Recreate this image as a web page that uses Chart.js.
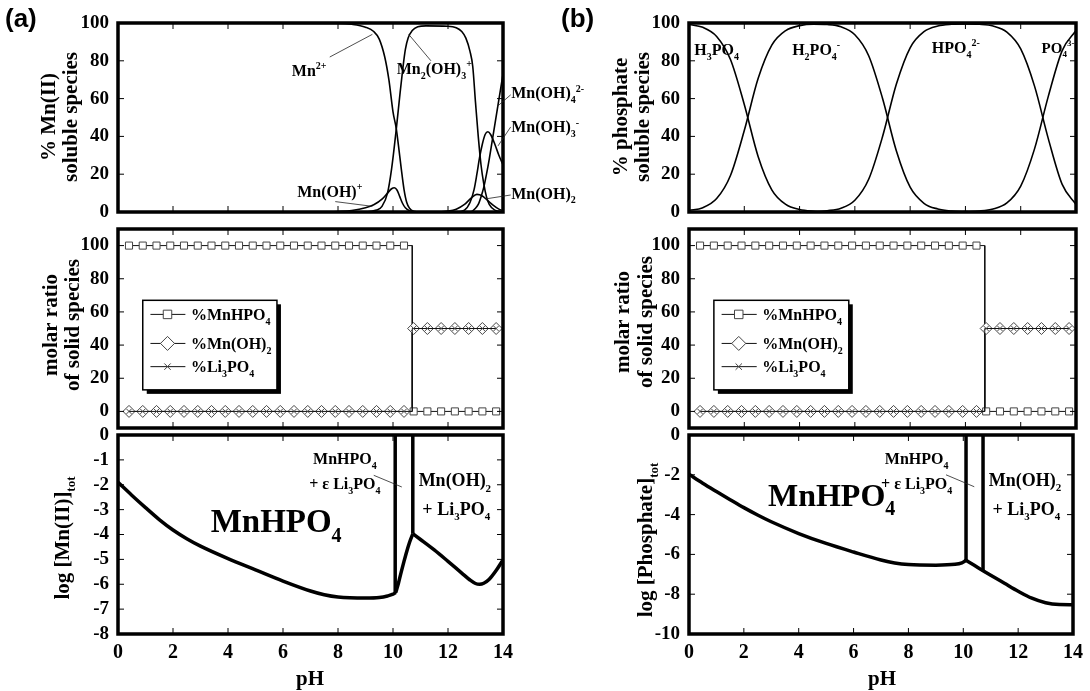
<!DOCTYPE html>
<html>
<head>
<meta charset="utf-8">
<script src="https://cdn.jsdelivr.net/npm/chart.js@4/dist/chart.umd.min.js"></script>
<style>
  body { margin: 0; background: #fff; }
  #wrap { position: relative; width: 1090px; height: 691px; }
  #wrap canvas { position: absolute; left: 0; top: 0; }
</style>
</head>
<body>
<div id="wrap">
  <canvas id="aTop" width="1090" height="691"></canvas>
  <canvas id="aMid" width="1090" height="691"></canvas>
  <canvas id="aBot" width="1090" height="691"></canvas>
  <canvas id="bTop" width="1090" height="691"></canvas>
  <canvas id="bMid" width="1090" height="691"></canvas>
  <canvas id="bBot" width="1090" height="691"></canvas>
</div>
<script>
// ---------- tick labels ----------
const pHTicks = [0, 2, 4, 6, 8, 10, 12, 14];
const pHInner = [2, 4, 6, 8, 10, 12];
const pctTicks = [0, 20, 40, 60, 80, 100];
const mnLogTicks = [0, -1, -2, -3, -4, -5, -6, -7, -8];
const phLogTicks = [0, -2, -4, -6, -8, -10];

// ---------- (a) top: % Mn(II) soluble species ----------
const mn2PH = [0, 8.0, 8.5, 9.0, 9.3, 9.5, 9.7, 9.85, 10.0, 10.12, 10.2, 10.3, 10.4, 10.5, 10.6, 10.75, 11.0, 14];
const mn2Pct = [100, 99.8, 99.3, 97.8, 95.5, 91.5, 82, 70, 53, 44, 35, 23, 12, 5, 2, 0.4, 0, 0];
const mnohPH = [0, 7.5, 8.0, 8.5, 9.0, 9.3, 9.6, 9.8, 9.95, 10.05, 10.15, 10.25, 10.35, 10.45, 10.6, 10.8, 11.0, 14];
const mnohPct = [0, 0.05, 0.3, 0.8, 2.2, 3.8, 6.8, 10, 12.3, 12.8, 11.5, 8, 4.5, 2.2, 0.7, 0.1, 0, 0];
const mn2oh3PH = [0, 9.0, 9.4, 9.6, 9.8, 9.95, 10.12, 10.25, 10.35, 10.45, 10.55, 10.7, 10.9, 11.2, 12.0, 12.3, 12.5, 12.65, 12.8, 12.9, 13.0, 13.1, 13.2, 13.3, 13.4, 13.5, 13.7, 14];
const mn2oh3Pct = [0, 0, 1, 3, 10, 23, 44, 62, 75, 86, 92, 96, 98, 98.5, 98.3, 97.5, 95.5, 92, 85, 77, 58, 40, 25, 15, 8, 4, 1, 0.3];
const mnoh2PH = [0, 11.5, 12.0, 12.3, 12.6, 12.85, 13.05, 13.25, 13.45, 13.65, 13.85, 14];
const mnoh2Pct = [0, 0, 0.5, 1.5, 4, 7.5, 9.3, 8.5, 6, 3.5, 1.5, 0.6];
const mnoh3PH = [0, 12.3, 12.6, 12.8, 12.95, 13.05, 13.15, 13.25, 13.35, 13.45, 13.55, 13.7, 13.85, 14];
const mnoh3Pct = [0, 0, 1, 5, 12, 20, 29, 36, 41, 42.5, 41, 36, 30, 25];
const mnoh4PH = [0, 12.8, 13.0, 13.1, 13.2, 13.3, 13.4, 13.5, 13.6, 13.7, 13.8, 13.9, 14];
const mnoh4Pct = [0, 0, 2, 4, 8, 13, 20, 28, 37, 46, 55, 64, 73];

// ---------- (b) top: % phosphate soluble species ----------
const phosPH = [0, 0.5, 1, 1.5, 2, 2.5, 3, 3.5, 4, 4.5, 5, 5.5, 6, 6.5, 7, 7.5, 8, 8.5, 9, 9.5, 10, 10.5, 11, 11.5, 12, 12.5, 13, 13.5, 14];
const h3po4Pct = [99.2, 97.7, 92.9, 80.7, 56.9, 29.4, 11.6, 4.0, 1.3, 0.4, 0.1, 0, 0, 0, 0, 0, 0, 0, 0, 0, 0, 0, 0, 0, 0, 0, 0, 0, 0];
const h2po4Pct = [0.8, 2.3, 7.1, 19.3, 43.1, 70.6, 88.4, 96.0, 98.6, 99.4, 99.2, 98.0, 93.8, 82.7, 60.2, 32.4, 13.1, 4.6, 1.6, 0.5, 0.2, 0, 0, 0, 0, 0, 0, 0, 0];
const hpo4Pct = [0, 0, 0, 0, 0, 0, 0, 0, 0.1, 0.2, 0.7, 2.0, 6.2, 17.3, 39.8, 67.6, 86.9, 95.4, 98.4, 99.3, 99.5, 99.3, 98.4, 95.2, 86.3, 66.6, 38.7, 14.6, 4.0];
const po4Pct = [0, 0, 0, 0, 0, 0, 0, 0, 0, 0, 0, 0, 0, 0, 0, 0, 0, 0, 0, 0, 0.2, 0.5, 1.6, 4.8, 13.7, 33.4, 61.3, 85.4, 96.0];

// ---------- middle: molar ratio of solid species ----------
const solidPH1 = [0.4, 0.9, 1.4, 1.9, 2.4, 2.9, 3.4, 3.9, 4.4, 4.9, 5.4, 5.9, 6.4, 6.9, 7.4, 7.9, 8.4, 8.9, 9.4, 9.9, 10.4];
const solidPH2 = [10.75, 11.25, 11.75, 12.25, 12.75, 13.25, 13.75];
const switchPH = 10.7;
const mnhpo4Level = [100, 0];
const mnoh2Level = [0, 50];
const li3po4Level = [0, 50];
const solidNames = ['%MnHPO_{4}', '%Mn(OH)_{2}', '%Li_{3}PO_{4}'];

// ---------- (a) bottom: log [Mn(II)]tot ----------
const mnTotPH1 = [0, 0.5, 1, 1.5, 2, 2.5, 3, 4, 5, 6, 7, 7.5, 8, 9, 9.5, 9.8, 10.0, 10.1];
const mnTotLog1 = [-1.9, -2.42, -2.92, -3.4, -3.82, -4.17, -4.47, -4.97, -5.42, -5.87, -6.27, -6.42, -6.51, -6.55, -6.53, -6.47, -6.4, -6.33];
const mnTotPH2 = [10.1, 10.2, 10.3, 10.4, 10.5, 10.6, 10.72];
const mnTotLog2 = [-6.33, -5.95, -5.5, -5.08, -4.68, -4.32, -3.97];
const mnTotPH3 = [10.72, 11, 11.5, 12, 12.5, 12.8, 13.0, 13.15, 13.3, 13.5, 13.75, 14];
const mnTotLog3 = [-3.97, -4.2, -4.62, -5.08, -5.55, -5.83, -5.97, -6.0, -5.96, -5.8, -5.45, -5.02];
const mnBoundPH = [10.08, 10.72];
const mnBoundLog = [-6.36, -3.97];

// ---------- (b) bottom: log [Phosphate]tot ----------
const phTotPH1 = [0, 0.5, 1, 1.5, 2, 2.5, 3, 4, 5, 6, 7, 7.5, 8, 9, 9.7, 9.95, 10.1];
const phTotLog1 = [-1.97, -2.42, -2.84, -3.25, -3.65, -4.02, -4.36, -4.95, -5.45, -5.88, -6.28, -6.43, -6.51, -6.54, -6.5, -6.42, -6.3];
const phTotPH2 = [10.1, 10.4, 10.72, 11, 11.5, 12, 12.5, 13, 13.5, 14];
const phTotLog2 = [-6.3, -6.55, -6.82, -7.05, -7.45, -7.85, -8.2, -8.43, -8.52, -8.53];
const phBoundPH = [10.1, 10.72];
const phBoundLog = [-6.3, -6.82];

// ---------- layout ----------
const W = 1090, H = 691, AXIS_W = 60, X_AXIS_H = 58, TICK = 6;
const SERIF = '"Liberation Serif", "Times New Roman", serif';
const colA = { left: 118, right: 503 }, colB = { left: 689, right: 1076 };
const rowTop = { top: 23, bottom: 212 }, rowMid = { top: 229, bottom: 428 }, rowBot = { top: 435, bottom: 634 };

const font = size => 'bold ' + size + 'px ' + SERIF;
const zip = (xs, ys) => xs.map((x, i) => ({ x: x, y: ys[i] }));

// text with _{sub} and ^{sup} parts, y is the middle of the main run
function drawRich(ctx, text, x, y, size, align) {
  const parts = [];
  const re = /([_^])\{([^}]*)\}|([^_^]+)/g;
  let m;
  while ((m = re.exec(text))) {
    if (m[3]) parts.push({ t: m[3], k: 'n' });
    else parts.push({ t: m[2], k: m[1] === '_' ? 'sub' : 'sup' });
  }
  const small = Math.round(size * 0.62);
  let w = 0;
  parts.forEach(p => {
    ctx.font = font(p.k === 'n' ? size : small);
    p.w = ctx.measureText(p.t).width;
    w += p.w;
  });
  let cx = align === 'center' ? x - w / 2 : align === 'right' ? x - w : x;
  ctx.textAlign = 'left';
  ctx.textBaseline = 'alphabetic';
  parts.forEach(p => {
    ctx.font = font(p.k === 'n' ? size : small);
    const dy = p.k === 'sub' ? size * 0.3 : p.k === 'sup' ? -size * 0.42 : 0;
    ctx.fillText(p.t, cx, y + size * 0.34 + dy);
    cx += p.w;
  });
}

function curve(xs, ys, width) {
  return {
    data: zip(xs, ys), borderColor: '#000', borderWidth: width,
    pointRadius: 0, cubicInterpolationMode: 'monotone', fill: false
  };
}

function bound(xs, ys, i) {
  return {
    data: [{ x: xs[i], y: 0 }, { x: xs[i], y: ys[i] }],
    borderColor: '#000', borderWidth: 3.5, pointRadius: 0, fill: false
  };
}

const solidStyles = [
  { pointStyle: 'rect', radius: 5 },
  { pointStyle: 'rectRot', radius: 6 },
  { pointStyle: 'crossRot', radius: 3.5 }
];

function solidSeries(level, style) {
  const pts = solidPH1.map(x => ({ x: x, y: level[0] }))
    .concat([{ x: switchPH, y: level[0] }, { x: switchPH, y: level[1] }])
    .concat(solidPH2.map(x => ({ x: x, y: level[1] })));
  const radii = solidPH1.map(() => style.radius).concat([0, 0]).concat(solidPH2.map(() => style.radius));
  return {
    data: pts, borderColor: '#111', borderWidth: 1, fill: false,
    pointStyle: style.pointStyle, pointRadius: radii,
    pointBorderColor: '#444', pointBorderWidth: 1, pointBackgroundColor: '#fff'
  };
}

function drawLegend(ctx, X, Y) {
  const l = X(0.9), r = X(5.78), t = Y(67), b = Y(13);
  ctx.fillStyle = '#000';
  ctx.fillRect(l + 4, t + 4, r - l, b - t);
  ctx.fillStyle = '#fff';
  ctx.fillRect(l, t, r - l, b - t);
  ctx.strokeStyle = '#000';
  ctx.lineWidth = 1.5;
  ctx.strokeRect(l, t, r - l, b - t);
  const rowsY = [58.5, 41, 27];
  solidNames.forEach((name, i) => {
    const y = Y(rowsY[i]);
    ctx.strokeStyle = '#111';
    ctx.lineWidth = 1;
    ctx.beginPath();
    ctx.moveTo(X(1.18), y);
    ctx.lineTo(X(2.45), y);
    ctx.stroke();
    ctx.fillStyle = '#fff';
    ctx.strokeStyle = '#444';
    const st = solidStyles[i];
    Chart.helpers.drawPoint(ctx, { pointStyle: st.pointStyle, radius: st.radius + 1, rotation: 0, borderWidth: 1 }, X(1.8), y);
    ctx.fillStyle = '#000';
    drawRich(ctx, name, X(2.65), y, 16, 'left');
  });
}

function decoPlugin(p) {
  return {
    id: 'deco',
    afterDraw(chart) {
      const ctx = chart.ctx, a = chart.chartArea;
      const X = v => chart.scales.x.getPixelForValue(v);
      const Y = v => chart.scales.y.getPixelForValue(v);
      ctx.save();
      // inward ticks on all four sides
      ctx.strokeStyle = '#000';
      ctx.lineWidth = 1;
      ctx.beginPath();
      pHInner.forEach(v => {
        const px = X(v);
        ctx.moveTo(px, a.top); ctx.lineTo(px, a.top + TICK);
        ctx.moveTo(px, a.bottom); ctx.lineTo(px, a.bottom - TICK);
      });
      p.yMarks.forEach(v => {
        const py = Y(v);
        ctx.moveTo(a.left, py); ctx.lineTo(a.left + TICK, py);
        ctx.moveTo(a.right, py); ctx.lineTo(a.right - TICK, py);
      });
      ctx.stroke();
      ctx.lineWidth = 3.5;
      ctx.strokeRect(a.left, a.top, a.right - a.left, a.bottom - a.top);

      ctx.strokeStyle = '#222';
      ctx.lineWidth = 0.8;
      (p.leaders || []).forEach(s => {
        ctx.beginPath();
        ctx.moveTo(X(s[0]), Y(s[1]));
        ctx.lineTo(X(s[2]), Y(s[3]));
        ctx.stroke();
      });
      ctx.fillStyle = '#000';
      (p.labels || []).forEach(l => drawRich(ctx, l.text, X(l.x), Y(l.y), l.size, l.align || 'center'));
      (p.titles || []).forEach(t => {
        ctx.save();
        ctx.translate(t.x, t.y);
        if (t.rot) ctx.rotate(-Math.PI / 2);
        drawRich(ctx, t.text, 0, 0, t.size, 'center');
        ctx.restore();
      });
      if (p.tag) {
        ctx.font = 'bold 26px "Liberation Sans", Arial, sans-serif';
        ctx.textAlign = 'left';
        ctx.textBaseline = 'middle';
        ctx.fillText(p.tag.text, p.tag.x, p.tag.y);
      }
      if (p.legend) drawLegend(ctx, X, Y);
      ctx.restore();
    }
  };
}

function makeChart(id, p) {
  const box = p.box;
  const showX = p.showX === true;
  return new Chart(document.getElementById(id), {
    type: 'line',
    data: { datasets: p.datasets },
    options: {
      responsive: false,
      animation: false,
      devicePixelRatio: 1,
      layout: {
        padding: {
          left: box.left - AXIS_W, right: W - box.right, top: box.top,
          bottom: showX ? H - box.bottom - X_AXIS_H : H - box.bottom
        }
      },
      plugins: { legend: { display: false }, tooltip: { enabled: false } },
      scales: {
        x: {
          type: 'linear', min: 0, max: 14, display: showX,
          afterBuildTicks: s => { s.ticks = pHTicks.map(v => ({ value: v })); },
          afterFit: s => { if (showX) s.height = X_AXIS_H; },
          grid: { display: false, drawTicks: false }, border: { display: false },
          ticks: { font: { family: SERIF, size: 20, weight: 'bold' }, color: '#000', padding: 7, maxRotation: 0, autoSkip: false }
        },
        y: {
          type: 'linear', min: p.yMin, max: p.yMax,
          afterBuildTicks: s => { s.ticks = p.yTicks.map(v => ({ value: v })); },
          afterFit: s => { s.width = AXIS_W; },
          grid: { display: false, drawTicks: false }, border: { display: false },
          ticks: { font: { family: SERIF, size: 19, weight: 'bold' }, color: '#000', padding: 9, autoSkip: false }
        }
      }
    },
    plugins: [decoPlugin(p)]
  });
}

// ---------- (a) column ----------
makeChart('aTop', {
  box: Object.assign({}, colA, rowTop), yMin: 0, yMax: 100, yTicks: pctTicks, yMarks: [20, 40, 60, 80],
  datasets: [
    curve(mn2PH, mn2Pct, 1.6), curve(mnohPH, mnohPct, 1.6), curve(mn2oh3PH, mn2oh3Pct, 1.6),
    curve(mnoh2PH, mnoh2Pct, 1.6), curve(mnoh3PH, mnoh3Pct, 1.6), curve(mnoh4PH, mnoh4Pct, 1.6)
  ],
  labels: [
    { text: 'Mn^{2+}', x: 6.95, y: 75, size: 16 },
    { text: 'Mn_{2}(OH)_{3}^{+}', x: 11.5, y: 76, size: 16 },
    { text: 'Mn(OH)^{+}', x: 7.7, y: 11, size: 16 },
    { text: 'Mn(OH)_{4}^{2-}', x: 14.3, y: 63, size: 16, align: 'left' },
    { text: 'Mn(OH)_{3}^{-}', x: 14.3, y: 45, size: 16, align: 'left' },
    { text: 'Mn(OH)_{2}', x: 14.3, y: 10, size: 16, align: 'left' }
  ],
  leaders: [
    [7.7, 82, 9.25, 94], [11.38, 80, 10.57, 94], [7.9, 5.5, 9.25, 3],
    [14.28, 62, 13.8, 56], [14.28, 45, 13.82, 35], [14.28, 9, 13.4, 7]
  ],
  titles: [
    { text: '% Mn(II)', x: 48, y: 117, size: 21, rot: true },
    { text: 'soluble species', x: 70, y: 117, size: 21, rot: true }
  ],
  tag: { text: '(a)', x: 5, y: 20 }
});

makeChart('aMid', {
  box: Object.assign({}, colA, rowMid), yMin: -10, yMax: 110, yTicks: pctTicks, yMarks: [0, 20, 40, 60, 80, 100],
  datasets: [
    solidSeries(li3po4Level, solidStyles[2]), solidSeries(mnoh2Level, solidStyles[1]), solidSeries(mnhpo4Level, solidStyles[0])
  ],
  legend: true,
  titles: [
    { text: 'molar ratio', x: 50, y: 325, size: 21, rot: true },
    { text: 'of solid species', x: 72, y: 325, size: 21, rot: true }
  ]
});

makeChart('aBot', {
  box: Object.assign({}, colA, rowBot), showX: true, yMin: -8, yMax: 0, yTicks: mnLogTicks, yMarks: [-1, -2, -3, -4, -5, -6, -7],
  datasets: [
    curve(mnTotPH1, mnTotLog1, 3.5), curve(mnTotPH2, mnTotLog2, 3.5), curve(mnTotPH3, mnTotLog3, 3.5),
    bound(mnBoundPH, mnBoundLog, 0), bound(mnBoundPH, mnBoundLog, 1)
  ],
  labels: [
    { text: 'MnHPO_{4}', x: 5.75, y: -3.45, size: 33 },
    { text: 'MnHPO_{4}', x: 8.25, y: -0.94, size: 16 },
    { text: '+ \u03b5 Li_{3}PO_{4}', x: 8.25, y: -1.95, size: 16 },
    { text: 'Mn(OH)_{2}', x: 12.25, y: -1.82, size: 18 },
    { text: '+ Li_{3}PO_{4}', x: 12.3, y: -2.96, size: 18 }
  ],
  leaders: [[9.3, -1.62, 10.32, -2.09]],
  titles: [
    { text: 'log [Mn(II)]_{tot}', x: 62, y: 538, size: 21, rot: true },
    { text: 'pH', x: 310, y: 678, size: 21 }
  ]
});

// ---------- (b) column ----------
makeChart('bTop', {
  box: Object.assign({}, colB, rowTop), yMin: 0, yMax: 100, yTicks: pctTicks, yMarks: [20, 40, 60, 80],
  datasets: [
    curve(phosPH, h3po4Pct, 1.6), curve(phosPH, h2po4Pct, 1.6), curve(phosPH, hpo4Pct, 1.6), curve(phosPH, po4Pct, 1.6)
  ],
  labels: [
    { text: 'H_{3}PO_{4}', x: 1.0, y: 86, size: 16 },
    { text: 'H_{2}PO_{4}^{-}', x: 4.6, y: 86, size: 16 },
    { text: 'HPO_{4}^{2-}', x: 9.65, y: 87, size: 16 },
    { text: 'PO_{4}^{3-}', x: 13.35, y: 87, size: 15 }
  ],
  titles: [
    { text: '% phosphate', x: 620, y: 117, size: 21, rot: true },
    { text: 'soluble species', x: 642, y: 117, size: 21, rot: true }
  ],
  tag: { text: '(b)', x: 561, y: 20 }
});

makeChart('bMid', {
  box: Object.assign({}, colB, rowMid), yMin: -10, yMax: 110, yTicks: pctTicks, yMarks: [0, 20, 40, 60, 80, 100],
  datasets: [
    solidSeries(li3po4Level, solidStyles[2]), solidSeries(mnoh2Level, solidStyles[1]), solidSeries(mnhpo4Level, solidStyles[0])
  ],
  legend: true,
  titles: [
    { text: 'molar ratio', x: 622, y: 322, size: 21, rot: true },
    { text: 'of solid species', x: 645, y: 322, size: 21, rot: true }
  ]
});

makeChart('bBot', {
  box: Object.assign({}, colB, rowBot), showX: true, yMin: -10, yMax: 0, yTicks: phLogTicks, yMarks: [-2, -4, -6, -8],
  datasets: [
    curve(phTotPH1, phTotLog1, 3.5), curve(phTotPH2, phTotLog2, 3.5),
    bound(phBoundPH, phBoundLog, 0), bound(phBoundPH, phBoundLog, 1)
  ],
  labels: [
    { text: 'MnHPO_{4}', x: 5.2, y: -3.0, size: 32 },
    { text: 'MnHPO_{4}', x: 8.3, y: -1.2, size: 16 },
    { text: '+ \u03b5 Li_{3}PO_{4}', x: 8.3, y: -2.45, size: 16 },
    { text: 'Mn(OH)_{2}', x: 12.25, y: -2.25, size: 18 },
    { text: '+ Li_{3}PO_{4}', x: 12.3, y: -3.7, size: 18 }
  ],
  leaders: [[9.37, -2.0, 10.4, -2.6]],
  titles: [
    { text: 'log [Phosphate]_{tot}', x: 645, y: 540, size: 21, rot: true },
    { text: 'pH', x: 882, y: 678, size: 21 }
  ]
});
</script>
</body>
</html>
